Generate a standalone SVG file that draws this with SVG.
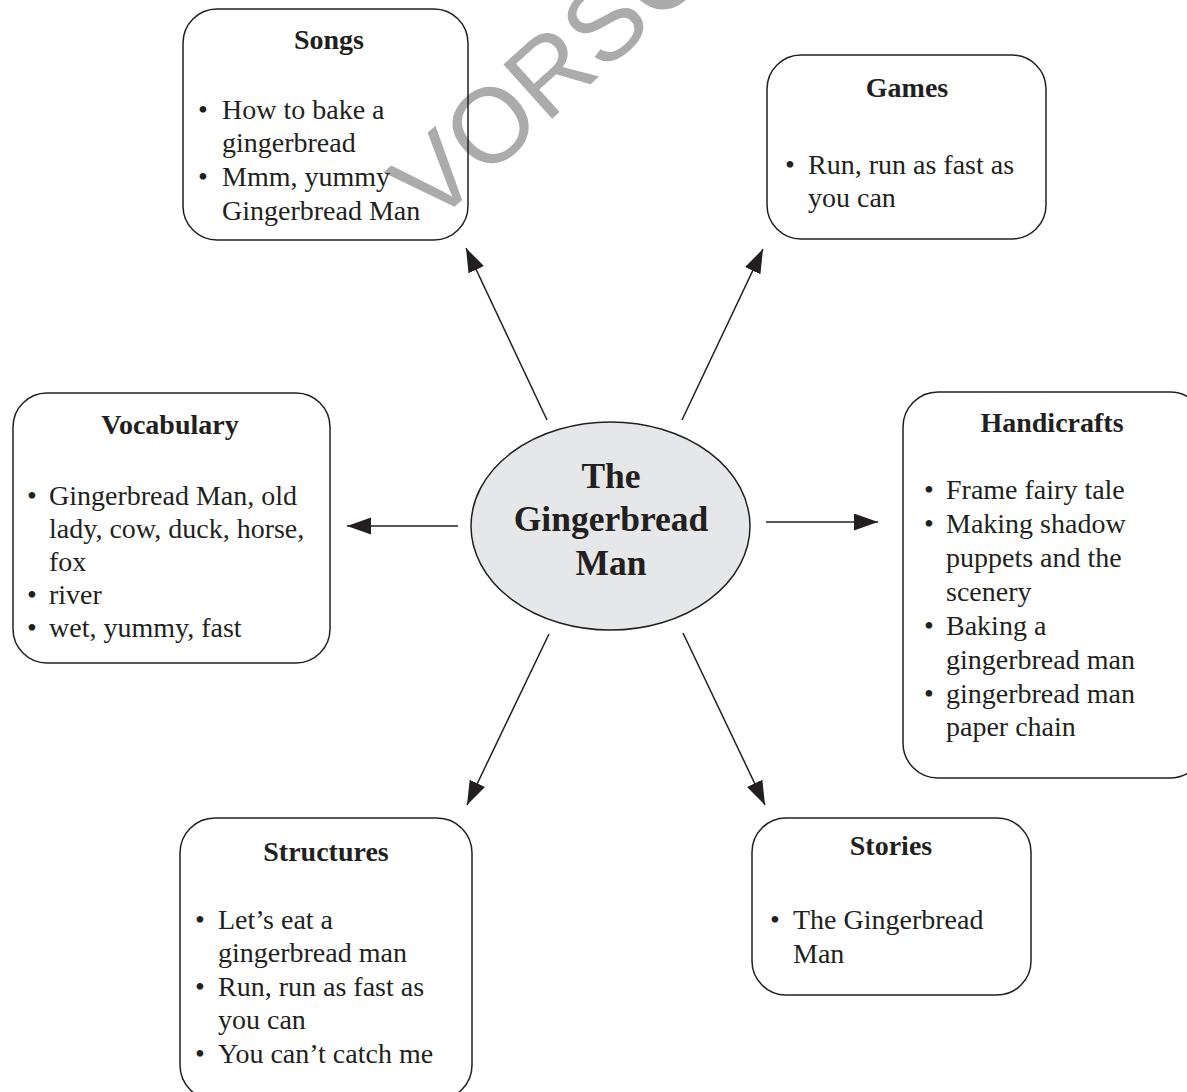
<svg xmlns="http://www.w3.org/2000/svg" width="1187" height="1092" viewBox="0 0 1187 1092">
<style>
.box{fill:none;stroke:#231f20;stroke-width:1.5}
.t{font-family:"Liberation Serif","Times New Roman",serif;font-size:28px;fill:#231f20}
.h{font-family:"Liberation Serif","Times New Roman",serif;font-size:28px;font-weight:bold;fill:#231f20;text-anchor:middle}
.b{text-anchor:middle}
.c{font-family:"Liberation Serif","Times New Roman",serif;font-size:35.5px;font-weight:bold;fill:#231f20;text-anchor:middle}
.ln{stroke:#231f20;stroke-width:1.5;fill:none;marker-end:url(#ah)}
.wm{font-family:"Liberation Sans",Arial,sans-serif;font-size:106px;fill:#ababab}
</style>
<defs>
<marker id="ah" markerUnits="userSpaceOnUse" markerWidth="26" markerHeight="18" refX="24" refY="8.5" orient="auto">
<path d="M0,0 L24,8.5 L0,17 z" fill="#231f20"/>
</marker>
</defs>
<rect width="1187" height="1092" fill="#ffffff"/>
<text class="wm" transform="translate(432,227) rotate(-42)">VORSC</text>

<g id="songs">
<rect class="box" x="183" y="9" width="285" height="231" rx="34"/>
<text class="h" x="329" y="49">Songs</text>
<text class="t b" x="203" y="119">•</text>
<text class="t" x="222" y="119">How to bake a</text>
<text class="t" x="222" y="152">gingerbread</text>
<text class="t b" x="203" y="186">•</text>
<text class="t" x="222" y="186">Mmm, yummy</text>
<text class="t" x="222" y="220">Gingerbread Man</text>
</g>

<g id="games">
<rect class="box" x="767" y="55" width="279" height="184" rx="34"/>
<text class="h" x="907" y="97">Games</text>
<text class="t b" x="790" y="174">•</text>
<text class="t" x="808" y="174">Run, run as fast as</text>
<text class="t" x="808" y="207">you can</text>
</g>

<g id="vocabulary">
<rect class="box" x="13" y="393" width="317" height="270" rx="34"/>
<text class="h" x="170" y="434">Vocabulary</text>
<text class="t b" x="32" y="505">•</text>
<text class="t" x="49" y="505">Gingerbread Man, old</text>
<text class="t" x="49" y="538">lady, cow, duck, horse,</text>
<text class="t" x="49" y="571">fox</text>
<text class="t b" x="32" y="604">•</text>
<text class="t" x="49" y="604">river</text>
<text class="t b" x="32" y="637">•</text>
<text class="t" x="49" y="637">wet, yummy, fast</text>
</g>

<g id="handicrafts">
<rect class="box" x="903" y="392" width="302" height="386" rx="35"/>
<text class="h" x="1052" y="432">Handicrafts</text>
<text class="t b" x="929" y="499">•</text>
<text class="t" x="946" y="499">Frame fairy tale</text>
<text class="t b" x="929" y="533">•</text>
<text class="t" x="946" y="533">Making shadow</text>
<text class="t" x="946" y="567">puppets and the</text>
<text class="t" x="946" y="601">scenery</text>
<text class="t b" x="929" y="635">•</text>
<text class="t" x="946" y="635">Baking a</text>
<text class="t" x="946" y="669">gingerbread man</text>
<text class="t b" x="929" y="703">•</text>
<text class="t" x="946" y="703">gingerbread man</text>
<text class="t" x="946" y="736">paper chain</text>
</g>

<g id="structures">
<rect class="box" x="180" y="818" width="292" height="282" rx="35"/>
<text class="h" x="326" y="861">Structures</text>
<text class="t b" x="200" y="929">•</text>
<text class="t" x="218" y="929">Let’s eat a</text>
<text class="t" x="218" y="962">gingerbread man</text>
<text class="t b" x="200" y="996">•</text>
<text class="t" x="218" y="996">Run, run as fast as</text>
<text class="t" x="218" y="1029">you can</text>
<text class="t b" x="200" y="1063">•</text>
<text class="t" x="218" y="1063">You can’t catch me</text>
</g>

<g id="stories">
<rect class="box" x="752" y="818" width="279" height="177" rx="34"/>
<text class="h" x="891" y="855">Stories</text>
<text class="t b" x="775" y="929">•</text>
<text class="t" x="793" y="929">The Gingerbread</text>
<text class="t" x="793" y="963">Man</text>
</g>

<g id="center">
<ellipse cx="610.5" cy="526" rx="139.5" ry="104" fill="#e6e7e8" stroke="#231f20" stroke-width="1.5"/>
<text class="c" x="611" y="488">The</text>
<text class="c" x="611" y="531">Gingerbread</text>
<text class="c" x="611" y="575">Man</text>
</g>

<g id="connectors">
<line class="ln" x1="547" y1="420" x2="466" y2="248"/>
<line class="ln" x1="682" y1="420" x2="763" y2="249"/>
<line class="ln" x1="458" y1="526" x2="347" y2="526"/>
<line class="ln" x1="766" y1="522" x2="878" y2="522"/>
<line class="ln" x1="549" y1="634" x2="467" y2="805"/>
<line class="ln" x1="683" y1="633" x2="765" y2="805"/>
</g>
</svg>
